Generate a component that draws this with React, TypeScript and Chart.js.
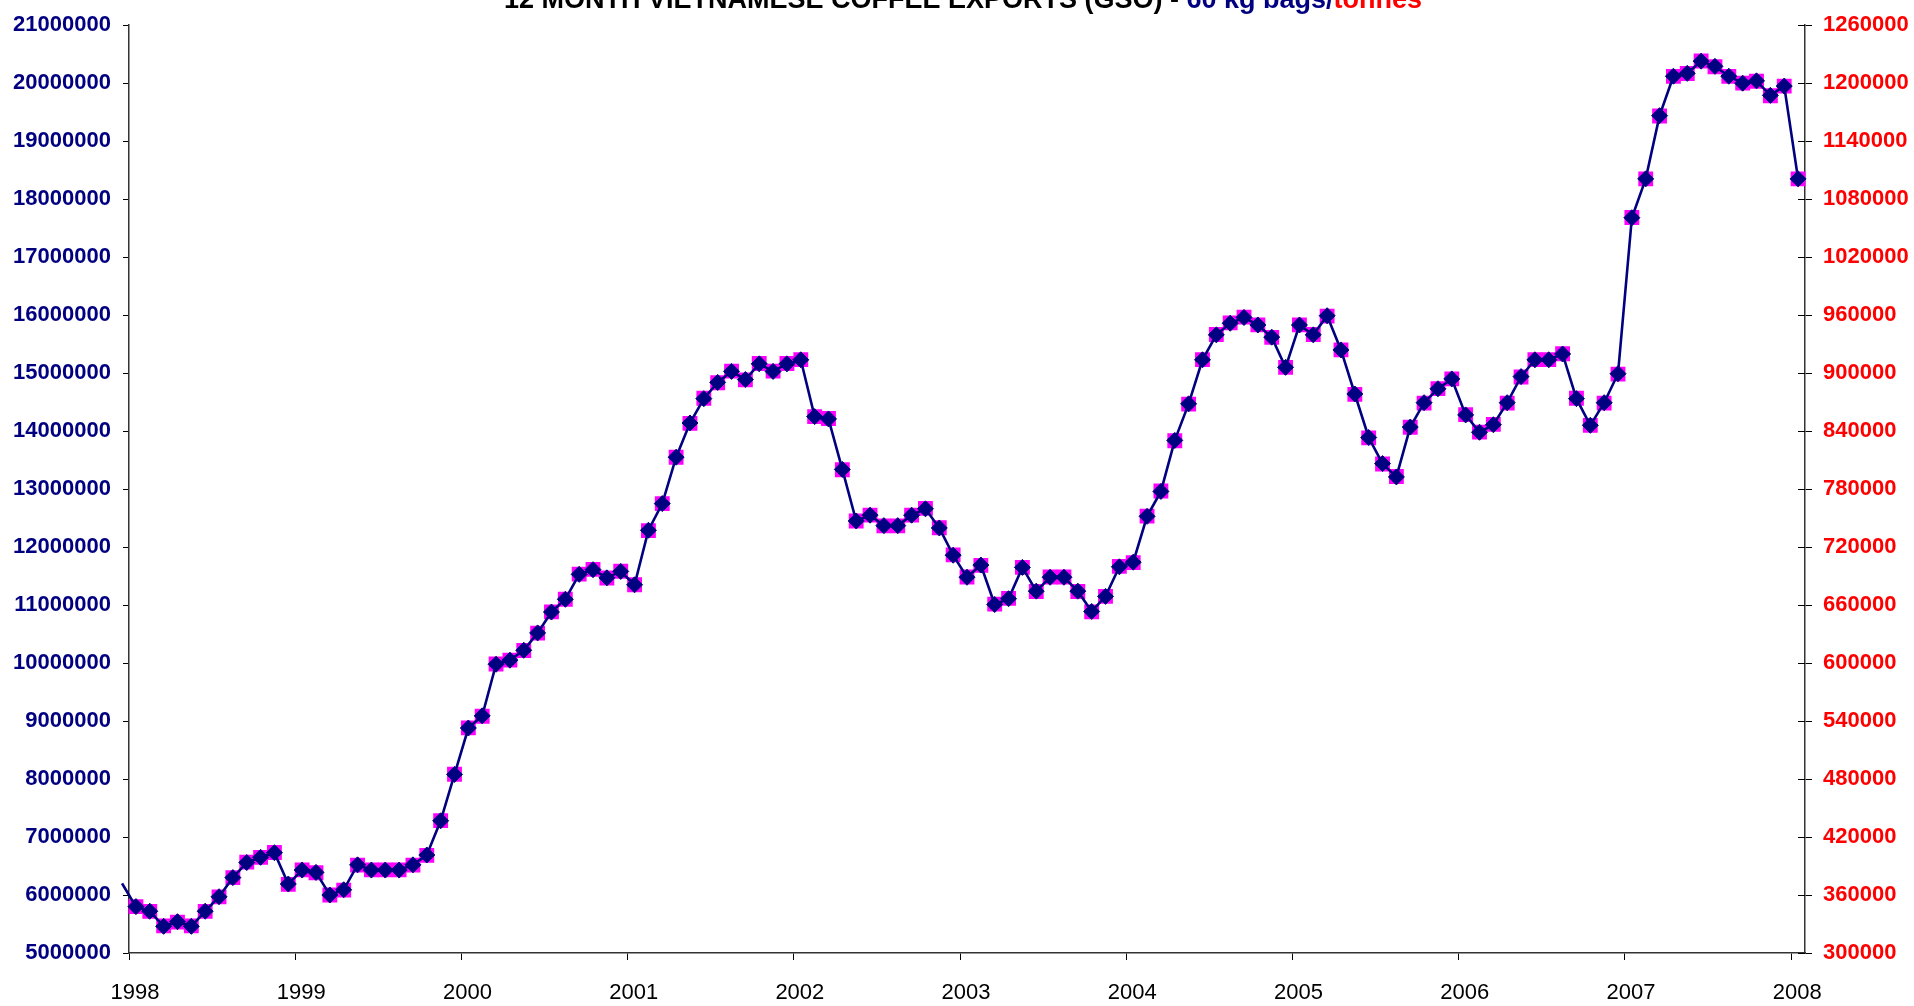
import React, { useEffect, useRef } from 'react';
import { Chart, registerables } from 'chart.js';

Chart.register(...registerables);

// ---------- data ----------
const TITLE_MAIN = '12 MONTH VIETNAMESE COFFEE EXPORTS (GSO) - ';
const TITLE_BAGS = '60 kg bags/';
const TITLE_TONNES = 'tonnes';

const yearLabels = ['1998', '1999', '2000', '2001', '2002', '2003', '2004', '2005', '2006', '2007', '2008'];

// 12-month rolling exports, 60 kg bags, Dec 1997 .. Jan 2008
const bags60kg = [
  6200000,
  5800000, 5720000, 5460000, 5540000, 5460000, 5720000, 5970000, 6300000, 6560000, 6650000, 6730000, 6190000,
  6430000, 6390000, 6000000, 6090000, 6520000, 6430000, 6430000, 6430000, 6520000, 6690000, 7280000, 8080000,
  8880000, 9090000, 9980000, 10050000, 10220000, 10520000, 10880000, 11100000, 11530000, 11610000, 11470000, 11580000,
  11350000, 12290000, 12750000, 13550000, 14140000, 14560000, 14840000, 15030000, 14890000, 15160000, 15030000, 15160000,
  15230000, 14250000, 14210000, 13340000, 12450000, 12550000, 12370000, 12370000, 12550000, 12660000, 12330000, 11860000,
  11480000, 11690000, 11010000, 11110000, 11650000, 11240000, 11480000, 11480000, 11240000, 10890000, 11150000, 11660000,
  11740000, 12530000, 12960000, 13840000, 14470000, 15230000, 15660000, 15860000, 15960000, 15830000, 15620000, 15100000,
  15830000, 15660000, 15990000, 15400000, 14640000, 13890000, 13440000, 13210000, 14070000, 14490000, 14730000, 14900000,
  14280000, 13980000, 14110000, 14490000, 14940000, 15230000, 15230000, 15330000, 14560000, 14100000, 14490000, 14990000,
  17680000, 18350000, 19440000, 20120000, 20170000, 20380000, 20290000, 20120000, 20000000, 20040000, 19790000, 19950000,
  18350000,
];

// 12-month rolling exports, tonnes, Jan 1998 .. Jan 2008
const tonnes = [
  348000, 343000, 328000, 332000, 328000, 343000, 358000, 378000, 394000, 399000, 404000, 371000,
  386000, 383000, 360000, 365000, 391000, 386000, 386000, 386000, 391000, 401000, 437000, 485000,
  533000, 545000, 599000, 603000, 613000, 631000, 653000, 666000, 692000, 697000, 688000, 695000,
  681000, 737000, 765000, 813000, 848000, 874000, 890000, 902000, 893000, 910000, 902000, 910000,
  914000, 855000, 853000, 800000, 747000, 753000, 742000, 742000, 753000, 760000, 740000, 712000,
  689000, 701000, 661000, 667000, 699000, 674000, 689000, 689000, 674000, 653000, 669000, 700000,
  704000, 752000, 778000, 830000, 868000, 914000, 940000, 952000, 958000, 950000, 937000, 906000,
  950000, 940000, 959000, 924000, 878000, 833000, 806000, 793000, 844000, 869000, 884000, 894000,
  857000, 839000, 847000, 869000, 896000, 914000, 914000, 920000, 874000, 846000, 869000, 899000,
  1061000, 1101000, 1166000, 1207000, 1210000, 1223000, 1217000, 1207000, 1200000, 1202000, 1187000, 1197000,
  1101000,
];

const bagsAxis = { min: 5000000, max: 21000000, step: 1000000 };
const tonnesAxis = { min: 300000, max: 1260000, step: 60000 };

const FONT = "'Liberation Sans', Arial, Helvetica, sans-serif";
const NAVY = '#000080';
const MAGENTA = '#FF00FF';
const RED = '#FF0000';
const AXIS = '#333333';

// month slots: slot 0 = Jan 1998; bags series starts one month earlier (Dec 1997)
const bagsPoints = bags60kg.map((v, i) => ({ x: i - 0.5, y: v }));
const bagsRadius = bags60kg.map((_, i) => (i === 0 ? 0 : 8));
const tonnesPoints = tonnes.map((v, i) => ({ x: i + 0.5, y: v }));
const monthSlots = tonnes.length;

const titlePlugin = {
  id: 'cutTitle',
  afterDraw(chart: any) {
    const ctx = chart.ctx;
    ctx.save();
    ctx.font = `bold 27px ${FONT}`;
    ctx.textBaseline = 'alphabetic';
    ctx.textAlign = 'left';
    const parts: [string, string][] = [
      [TITLE_MAIN, '#000000'],
      [TITLE_BAGS, NAVY],
      [TITLE_TONNES, RED],
    ];
    const widths = parts.map(([t]) => ctx.measureText(t).width);
    const total = widths.reduce((a, b) => a + b, 0);
    let x = 963 - total / 2;
    parts.forEach(([t, c], i) => {
      ctx.fillStyle = c;
      ctx.fillText(t, x, 8);
      x += widths[i];
    });
    ctx.restore();
  },
};

const innerTickPlugin = {
  id: 'innerTicks',
  afterDraw(chart: any) {
    const s = chart.scales.y1;
    if (!s) return;
    const ctx = chart.ctx;
    ctx.save();
    ctx.strokeStyle = '#000000';
    ctx.lineWidth = 1;
    ctx.beginPath();
    s.ticks.forEach((t: any) => {
      const y = Math.round(s.getPixelForValue(t.value)) + 0.5;
      ctx.moveTo(s.left - 7, y);
      ctx.lineTo(s.left, y);
    });
    ctx.stroke();
    ctx.restore();
  },
};

export default function App() {
  const canvasRef = useRef<HTMLCanvasElement | null>(null);

  useEffect(() => {
    if (!canvasRef.current) return;
    const chart = new Chart(canvasRef.current, {
      type: 'line',
      data: {
        datasets: [
          {
            label: '60 kg bags',
            data: bagsPoints,
            yAxisID: 'y',
            borderColor: NAVY,
            borderWidth: 2.6,
            backgroundColor: NAVY,
            pointStyle: 'rectRot',
            pointRadius: bagsRadius,
            pointBorderWidth: 1,
            pointBorderColor: NAVY,
            pointBackgroundColor: NAVY,
            tension: 0,
            clip: { left: 8, right: 10, top: 20, bottom: 10 },
          } as any,
          {
            label: 'tonnes',
            data: tonnesPoints,
            yAxisID: 'y1',
            showLine: false,
            pointStyle: 'rect',
            pointRadius: 10.5,
            pointBorderWidth: 0,
            pointBackgroundColor: MAGENTA,
            backgroundColor: MAGENTA,
            borderColor: MAGENTA,
            clip: { left: 8, right: 10, top: 20, bottom: 10 },
          } as any,
        ],
      },
      options: {
        animation: false,
        responsive: false,
        maintainAspectRatio: false,
        layout: { padding: { top: 24, left: 0, right: 0, bottom: 0 } },
        plugins: {
          legend: { display: false },
          title: { display: false },
          tooltip: { enabled: false },
        },
        scales: {
          x: {
            type: 'linear',
            min: 0,
            max: monthSlots,
            afterBuildTicks: (s: any) => {
              s.ticks = yearLabels.map((_, i) => ({ value: i * 12 }));
            },
            afterFit: (s: any) => {
              s.height = 53;
            },
            ticks: {
              autoSkip: false,
              maxRotation: 0,
              padding: 20,
              labelOffset: 6,
              color: '#000000',
              font: { family: FONT, size: 22, weight: 'normal' },
              callback: (_v: any, i: number) => yearLabels[i],
            },
            grid: { drawOnChartArea: false, drawTicks: true, tickLength: 7, color: '#000000' },
            border: { display: true, color: AXIS, width: 1.5 },
          },
          y: {
            type: 'linear',
            position: 'left',
            min: bagsAxis.min,
            max: bagsAxis.max,
            afterFit: (s: any) => {
              s.width = 129;
            },
            ticks: {
              stepSize: bagsAxis.step,
              padding: 12,
              color: NAVY,
              font: { family: FONT, size: 22, weight: 'bold' },
              callback: (v: any) => String(v),
            },
            grid: { drawOnChartArea: false, drawTicks: true, tickLength: 6, color: '#000000' },
            border: { display: true, color: AXIS, width: 1.5 },
          },
          y1: {
            type: 'linear',
            position: 'right',
            min: tonnesAxis.min,
            max: tonnesAxis.max,
            afterFit: (s: any) => {
              s.width = 109;
            },
            ticks: {
              stepSize: tonnesAxis.step,
              padding: 11,
              color: RED,
              font: { family: FONT, size: 22, weight: 'bold' },
              callback: (v: any) => String(v),
            },
            grid: { drawOnChartArea: false, drawTicks: true, tickLength: 7, color: '#000000' },
            border: { display: true, color: AXIS, width: 1.5 },
          },
        },
      } as any,
      plugins: [titlePlugin, innerTickPlugin],
    });
    return () => chart.destroy();
  }, []);

  return (
    <div style={{ position: 'fixed', left: 0, top: 0, width: 1914, height: 1006, background: '#ffffff' }}>
      <canvas ref={canvasRef} width={1914} height={1006} style={{ display: 'block' }} />
    </div>
  );
}
